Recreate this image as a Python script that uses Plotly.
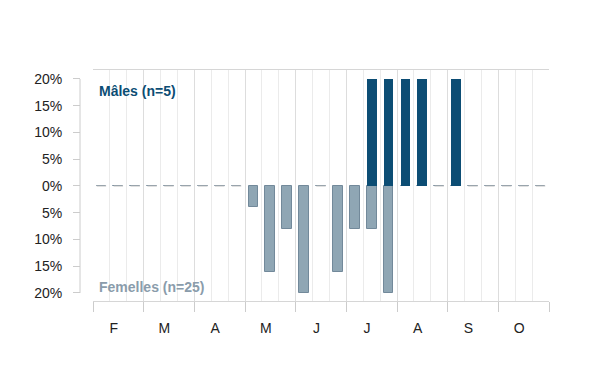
import plotly.graph_objects as go

months = ["F", "M", "A", "M", "J", "J", "A", "S", "O"]
bins_per_month = 3
# percentage per bin (27 bins, 3 per month)
females = [0, 0, 0, 0, 0, 0, 0, 0, 0,
           4, 16, 8, 20, 0, 16, 8, 8, 20,
           0, 0, 0, 0, 0, 0, 0, 0, 0]
males = [0, 0, 0, 0, 0, 0, 0, 0, 0,
         0, 0, 0, 0, 0, 0, 0, 20, 20,
         20, 20, 0, 20, 0, 0, 0, 0, 0]
ytick_vals = [-20, -15, -10, -5, 0, 5, 10, 15, 20]
label_m = "Mâles (n=5)"
label_f = "Femelles (n=25)"

n = len(females)
xc = [i + 0.5 for i in range(n)]
FONT = "Liberation Sans, Arial, sans-serif"
MCOL = "#0c4d74"
FCOL = "#8fa6b4"

fig = go.Figure()
fig.add_trace(go.Bar(x=xc, y=[-v for v in females], base=0, width=0.58,
                     marker=dict(color=FCOL, line=dict(color="#72899a", width=1)),
                     showlegend=False, hoverinfo="skip"))
fig.add_trace(go.Bar(x=xc, y=males, base=0, width=0.58,
                     marker=dict(color=MCOL, line=dict(width=0)),
                     showlegend=False, hoverinfo="skip"))

dx, dy = [], []
for i in range(n):
    if females[i] == 0 and males[i] == 0:
        dx += [i + 0.22, i + 0.78, None]
        dy += [0, 0, None]
fig.add_trace(go.Scatter(x=dx, y=dy, mode="lines", line=dict(color="#bdbdbd", width=1),
                         showlegend=False, hoverinfo="skip"))
# helper trace to activate the overlay x axis for month ticks
fig.add_trace(go.Scatter(x=[0], y=[0], xaxis="x2", mode="markers",
                         marker=dict(opacity=0), showlegend=False, hoverinfo="skip"))

nb = n
month_centers = [m * bins_per_month + 1.23 for m in range(len(months))]
month_bounds = [m * bins_per_month for m in range(len(months) + 1)]

W, H = 600, 390
ml, mr, mt, mb = 80, 51, 70, 89
xdom0 = 13 / (W - ml - mr)

fig.update_layout(
    width=W, height=H, margin=dict(l=ml, r=mr, t=mt, b=mb),
    paper_bgcolor="white", plot_bgcolor="white",
    barmode="overlay", bargap=0,
    font=dict(family=FONT, size=14, color="#222222"),
    xaxis=dict(range=[0, nb], domain=[xdom0, 1], tickvals=month_centers, ticktext=months,
               ticks="", showgrid=False, zeroline=False, showline=True, mirror=True,
               linecolor="#d6d6d6", linewidth=1, ticklabelstandoff=14,
               tickfont=dict(size=14, color="#222222"),
               minor=dict(dtick=1, tick0=0, showgrid=True, gridcolor="#ebebeb", gridwidth=1, ticks="")),
    xaxis2=dict(range=[0, nb], domain=[xdom0, 1], overlaying="x", anchor="y", side="bottom",
                tickvals=month_bounds, ticks="outside", ticklen=10, tickcolor="#cccccc",
                showticklabels=False, showgrid=True, gridcolor="#dddddd", zeroline=False,
                showline=False),
    yaxis=dict(range=[-21.5, 21.68], anchor="free", position=0, tickvals=ytick_vals,
               ticktext=[f"{abs(v)}%" for v in ytick_vals], ticks="outside", ticklen=7,
               tickcolor="#cccccc", showgrid=False, zeroline=False, showline=False,
               ticklabelstandoff=8, tickfont=dict(size=14, color="#222222")),
    shapes=[dict(type="line", xref="paper", yref="y", x0=0, x1=0, y0=ytick_vals[0], y1=ytick_vals[-1],
                 line=dict(color="#cccccc", width=1))],
    annotations=[
        dict(text=f"<b>{label_m}</b>", x=0.25, y=17.8, xref="x", yref="y", xanchor="left",
             yanchor="middle", showarrow=False, font=dict(size=14, color=MCOL, family=FONT)),
        dict(text=f"<b>{label_f}</b>", x=0.25, y=-18.9, xref="x", yref="y", xanchor="left",
             yanchor="middle", showarrow=False, font=dict(size=14, color="#8a9cab", family=FONT)),
    ],
)
fig.write_html("out.html")
